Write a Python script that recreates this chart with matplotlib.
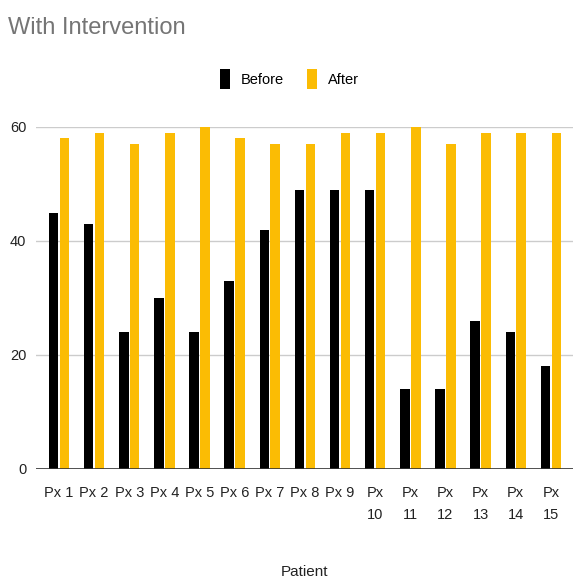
import matplotlib
matplotlib.use("Agg")
import matplotlib.pyplot as plt
import numpy as np

plt.rcParams["font.family"] = ["Liberation Sans", "DejaVu Sans"]

# Scores per patient, before and after the intervention
patients = ["Px 1", "Px 2", "Px 3", "Px 4", "Px 5", "Px 6", "Px 7", "Px 8", "Px 9",
            "Px\n10", "Px\n11", "Px\n12", "Px\n13", "Px\n14", "Px\n15"]
before = [45, 43, 24, 30, 24, 33, 42, 49, 49, 49, 14, 14, 26, 24, 18]
after = [58, 59, 57, 59, 60, 58, 57, 57, 59, 59, 60, 57, 59, 59, 59]
yticks = [0, 20, 40, 60]

BLACK = "#000000"
YELLOW = "#fbbc04"

fig = plt.figure(figsize=(5.73, 5.78), dpi=100)
ax = fig.add_axes([36 / 573, (578 - 469) / 578, 1 - 36 / 573, (469 - 127) / 578])

x = np.arange(len(patients))
w = 0.27
ax.bar(x - w / 2 - 0.02, before, width=w, color=BLACK, label="Before", zorder=3)
ax.bar(x + w / 2 + 0.02, after, width=w, color=YELLOW, label="After", zorder=3)

ax.set_xlim(-0.654, 14.63)
ax.set_ylim(0, 60)
ax.set_yticks(yticks)
ax.set_yticklabels([str(v) for v in yticks])
ax.set_xticks(x)
ax.set_xticklabels(patients, va="top", linespacing=1.75)
ax.tick_params(axis="both", length=0, labelsize=10.5, colors="#222222")
ax.tick_params(axis="x", pad=12)
ax.tick_params(axis="y", pad=7)

ax.grid(axis="y", color="#cccccc", linewidth=1, zorder=0)
ax.axhline(0, color="#333333", linewidth=1.2, zorder=4)
for s in ax.spines.values():
    s.set_visible(False)
ax.set_axisbelow(True)

ax.set_xlabel("Patient", fontsize=11, color="#222222", labelpad=31)

fig.text(8 / 573, 1 - 28 / 578, "With Intervention", fontsize=17, color="#757575",
         ha="left", va="center")

fig.legend(loc="center", bbox_to_anchor=(0.505, 1 - 79 / 578), ncol=2, frameon=False,
           fontsize=10.5, handlelength=0.7, handleheight=1.8, columnspacing=1.6,
           handletextpad=0.7)

fig.savefig("out.png", dpi=100)
